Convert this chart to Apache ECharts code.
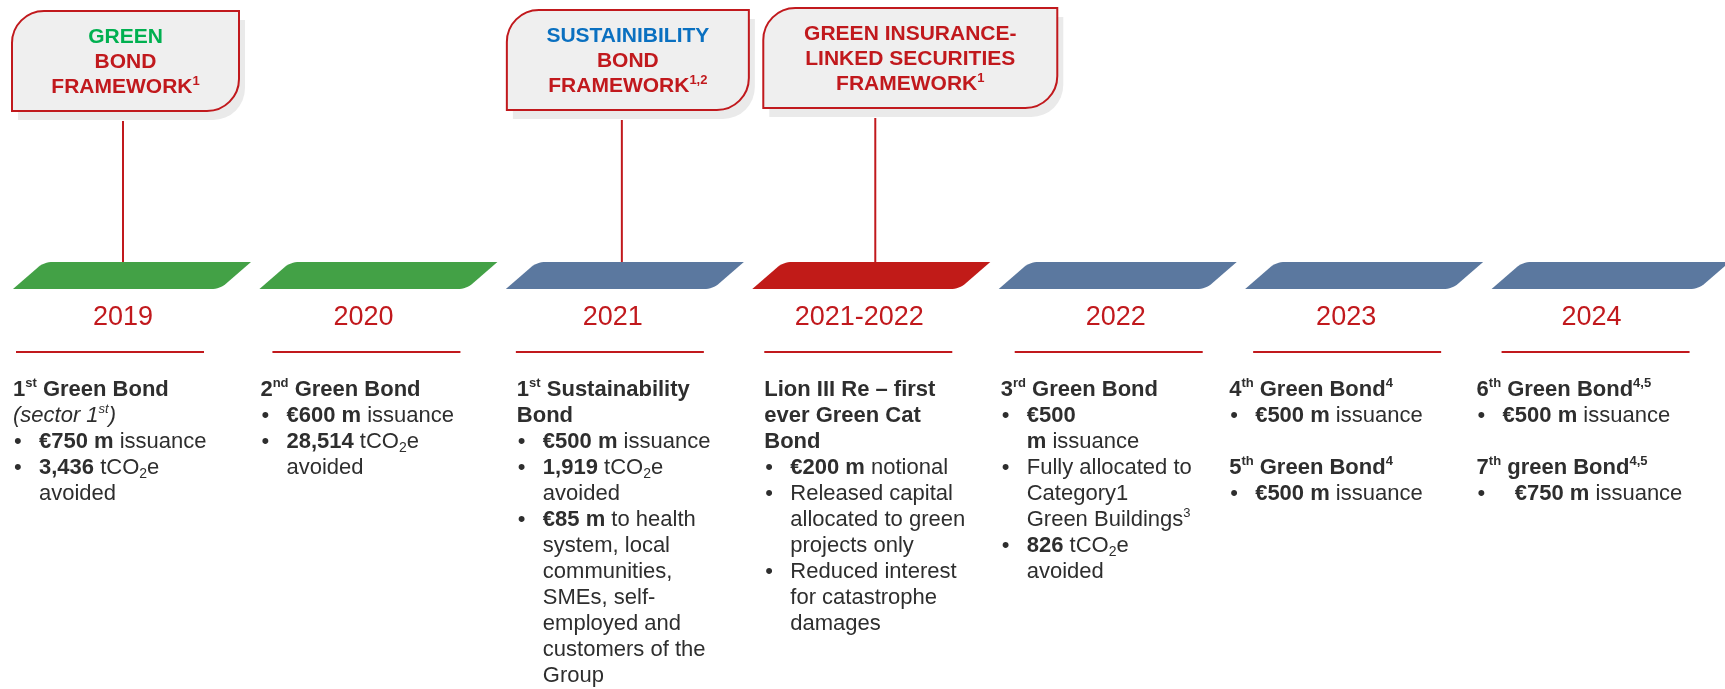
<!DOCTYPE html>
<html><head><meta charset="utf-8">
<script src="https://cdn.jsdelivr.net/npm/echarts@6/dist/echarts.min.js"></script>
<style>html,body{margin:0;padding:0;background:#fff}#c{width:1725px;height:689px}</style>
</head><body><div id="c"></div>
<script>
// ================= DATA =================
const periods = ['2019', '2020', '2021', '2021-2022', '2022', '2023', '2024'];
const barKinds = ['green', 'green', 'blue', 'red', 'blue', 'blue', 'blue'];

const frameworkPeriods = ['2019', '2021', '2021-2022'];
const frameworkGreen = ['{g|GREEN}', 'BOND', 'FRAMEWORK{s|1}'];
const frameworkSustainability = ['{bl|SUSTAINIBILITY}', 'BOND', 'FRAMEWORK{s|1,2}'];
const frameworkInsurance = ['GREEN INSURANCE-', 'LINKED SECURITIES', 'FRAMEWORK{s|1}'];

// line prefixes: H = heading line, B = bullet line, C = continuation line, '' = blank
const detail2019 = [
  'H:{b|1}{bs|st}{b| Green Bond}',
  'H:{i|(sector 1}{is|st}{i|)}',
  'B:{b|€750 m} issuance',
  'B:{b|3,436} tCO{sub|2}e',
  'C:avoided'
];
const detail2020 = [
  'H:{b|2}{bs|nd}{b| Green Bond}',
  'B:{b|€600 m} issuance',
  'B:{b|28,514} tCO{sub|2}e',
  'C:avoided'
];
const detail2021 = [
  'H:{b|1}{bs|st}{b| Sustainability}',
  'H:{b|Bond}',
  'B:{b|€500 m} issuance',
  'B:{b|1,919} tCO{sub|2}e',
  'C:avoided',
  'B:{b|€85 m} to health',
  'C:system, local',
  'C:communities,',
  'C:SMEs, self-',
  'C:employed and',
  'C:customers of the',
  'C:Group'
];
const detail2021_2022 = [
  'H:{b|Lion III Re – first}',
  'H:{b|ever Green Cat}',
  'H:{b|Bond}',
  'B:{b|€200 m} notional',
  'B:Released capital',
  'C:allocated to green',
  'C:projects only',
  'B:Reduced interest',
  'C:for catastrophe',
  'C:damages'
];
const detail2022 = [
  'H:{b|3}{bs|rd}{b| Green Bond}',
  'B:{b|€500}',
  'C:{b|m} issuance',
  'B:Fully allocated to',
  'C:Category1',
  'C:Green Buildings{rs|3}',
  'B:{b|826} tCO{sub|2}e',
  'C:avoided'
];
const detail2023 = [
  'H:{b|4}{bs|th}{b| Green Bond}{bs|4}',
  'B:{b|€500 m} issuance',
  '',
  'H:{b|5}{bs|th}{b| Green Bond}{bs|4}',
  'B:{b|€500 m} issuance'
];
const detail2024 = [
  'H:{b|6}{bs|th}{b| Green Bond}{bs|4,5}',
  'B:{b|€500 m} issuance',
  '',
  'H:{b|7}{bs|th}{b| green Bond}{bs|4,5}',
  'B:\u00a0\u00a0{b|€750 m} issuance'
];

const frameworks = [frameworkGreen, frameworkSustainability, frameworkInsurance];
const details = [detail2019, detail2020, detail2021, detail2021_2022, detail2022, detail2023, detail2024];

// ================= LAYOUT & STYLE =================
const FF = '"Liberation Sans", Arial, Helvetica, sans-serif';
const RED = '#C1191D';
const TEXT = '#2E2E2E';
const BAR_COLORS = { green: '#43A146', blue: '#5B789F', red: '#C11B18' };
const L = {
  barDx: 13, barW: 207, barShear: 31, barTop: 262, barBottom: 289, barR: 9,
  yearDx: [123, 117, 120, 120, 130, 114, 113], yearY: 318, yearSize: 27,
  ruleDx: [16, 26, 23, 25, 29, 21, 23], ruleW: 188, ruleY: 352,
  textDx: [13, 14, 24, 25, 15, -3, -2], textY: 389.5, lineStep: 26, indent: 26, bulletDx: 1,
  boxDx: [12, 14, 24], boxW: [227, 242, 294], boxTop: [11, 10, 8], boxH: 100, boxR: 32,
  linkDx: [123, 129, 136], linkGap: 10, boxLineStep: 25, boxFirst: 26, boxFont: 21
};

const bodyRich = {
  b:   { fontFamily: FF, fontSize: 22, fontWeight: 'bold', fill: TEXT, lineHeight: 26 },
  i:   { fontFamily: FF, fontSize: 22, fontStyle: 'italic', fill: TEXT, lineHeight: 26 },
  bs:  { fontFamily: FF, fontSize: 13, fontWeight: 'bold', fill: TEXT, lineHeight: 14, height: 14, verticalAlign: 'top' },
  is:  { fontFamily: FF, fontSize: 13, fontStyle: 'italic', fill: TEXT, lineHeight: 14, height: 14, verticalAlign: 'top' },
  rs:  { fontFamily: FF, fontSize: 13, fill: TEXT, lineHeight: 14, height: 14, verticalAlign: 'top' },
  sub: { fontFamily: FF, fontSize: 14, fill: TEXT, lineHeight: 12, height: 12, verticalAlign: 'bottom' }
};
const boxRich = {
  g:  { fontFamily: FF, fontSize: L.boxFont, fontWeight: 'bold', fill: '#00B050', lineHeight: 25 },
  bl: { fontFamily: FF, fontSize: L.boxFont, fontWeight: 'bold', fill: '#0A70C0', lineHeight: 25 },
  s:  { fontFamily: FF, fontSize: 13, fontWeight: 'bold', fill: RED, lineHeight: 13, height: 13, verticalAlign: 'top' }
};

function paraPoints(x0, yt, yb, w, s, r) {
  const BL = [x0, yb], TL = [x0 + s, yt], TR = [x0 + s + w, yt], BR = [x0 + w, yb];
  const pts = [BL];
  function corner(P, A, B) { // rounded corner at P, coming from A, going to B
    const da = Math.hypot(A[0] - P[0], A[1] - P[1]), db = Math.hypot(B[0] - P[0], B[1] - P[1]);
    const p1 = [P[0] + (A[0] - P[0]) * r / da, P[1] + (A[1] - P[1]) * r / da];
    const p2 = [P[0] + (B[0] - P[0]) * r / db, P[1] + (B[1] - P[1]) * r / db];
    for (let t = 0; t <= 1.0001; t += 0.125) {
      const u = 1 - t;
      pts.push([u * u * p1[0] + 2 * u * t * P[0] + t * t * p2[0], u * u * p1[1] + 2 * u * t * P[1] + t * t * p2[1]]);
    }
  }
  corner(TL, BL, TR);
  pts.push(TR);
  corner(BR, TR, BL);
  return pts;
}

function splitLine(line) {
  if (!line) return null;
  return { kind: line.charAt(0), text: line.slice(2) };
}

function renderColumn(params, api) {
  const k = params.dataIndex;
  const cat = api.value(0);
  const bw = api.size([1, 0])[0];
  const bs = api.coord([cat, 0])[0] - bw / 2;
  const y = v => api.coord([cat, v])[1];
  const children = [];
  children.push({
    type: 'polygon',
    shape: { points: paraPoints(bs + L.barDx, y(L.barTop), y(L.barBottom), L.barW, L.barShear, L.barR) },
    style: { fill: BAR_COLORS[barKinds[k]] }
  });
  children.push({
    type: 'text', x: bs + L.yearDx[k], y: y(L.yearY),
    style: { text: periods[k], fontFamily: FF, fontSize: L.yearSize, fill: RED, align: 'center', verticalAlign: 'middle' }
  });
  children.push({
    type: 'line',
    shape: { x1: bs + L.ruleDx[k], y1: y(L.ruleY), x2: bs + L.ruleDx[k] + L.ruleW, y2: y(L.ruleY) },
    style: { stroke: RED, lineWidth: 2 }
  });
  const left = bs + L.textDx[k];
  details[k].forEach((raw, j) => {
    const ln = splitLine(raw);
    if (!ln) return;
    const cy = y(L.textY + j * L.lineStep);
    if (ln.kind === 'B') {
      children.push({
        type: 'text', x: left + L.bulletDx, y: cy,
        style: { text: '•', fontFamily: FF, fontSize: 22, fill: TEXT, align: 'left', verticalAlign: 'middle' }
      });
    }
    children.push({
      type: 'text', x: left + (ln.kind === 'H' ? 0 : L.indent), y: cy,
      style: {
        text: ln.text, fontFamily: FF, fontSize: 22, fill: TEXT, lineHeight: 26,
        align: 'left', verticalAlign: 'middle', rich: bodyRich
      }
    });
  });
  return { type: 'group', children };
}

function renderFramework(params, api) {
  const k = params.dataIndex;
  const cat = api.value(0);
  const bw = api.size([1, 0])[0];
  const bs = api.coord([cat, 0])[0] - bw / 2;
  const y = v => api.coord([cat, v])[1];
  const left = bs + L.boxDx[k], top = y(L.boxTop[k]), w = L.boxW[k], h = L.boxH;
  const r = [L.boxR, 0, L.boxR, 0];
  const children = [
    { type: 'line', shape: { x1: bs + L.linkDx[k], y1: top + h + L.linkGap, x2: bs + L.linkDx[k], y2: y(L.barTop) },
      style: { stroke: RED, lineWidth: 2 } },
    { type: 'rect', shape: { x: left + 6, y: top + 9, width: w, height: h, r }, style: { fill: '#EAEAEA' } },
    { type: 'rect', shape: { x: left, y: top, width: w, height: h, r },
      style: { fill: '#EFEFEF', stroke: RED, lineWidth: 2 } }
  ];
  frameworks[k].forEach((t, j) => {
    children.push({
      type: 'text', x: left + w / 2, y: top + L.boxFirst + j * L.boxLineStep,
      style: {
        text: t, fontFamily: FF, fontSize: L.boxFont, fontWeight: 'bold', fill: RED, lineHeight: 25,
        align: 'center', verticalAlign: 'middle', rich: boxRich
      }
    });
  });
  return { type: 'group', children };
}

const chart = echarts.init(document.getElementById('c'), null, { renderer: 'canvas' });
chart.setOption({
  animation: false,
  backgroundColor: '#ffffff',
  grid: { left: 0, top: 0, width: 1729, height: 689 },
  xAxis: { type: 'category', data: periods, show: false, boundaryGap: true },
  yAxis: { type: 'value', min: 0, max: 689, inverse: true, show: false },
  series: [
    {
      type: 'custom', name: 'frameworks', silent: true,
      data: frameworkPeriods.map(p => [periods.indexOf(p), 0]),
      renderItem: renderFramework, clip: false
    },
    {
      type: 'custom', name: 'timeline', silent: true,
      data: periods.map((p, k) => [k, 0]),
      renderItem: renderColumn, clip: false
    }
  ]
});
</script>
</body></html>
